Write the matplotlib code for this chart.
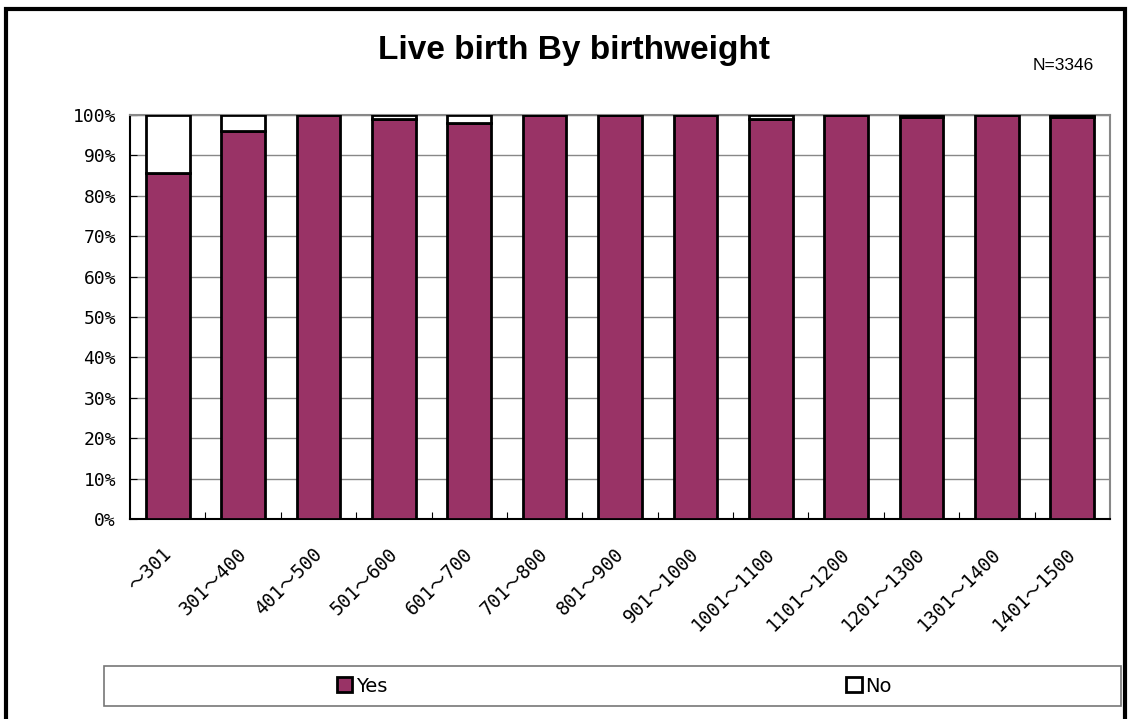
"""Live birth by birthweight: 100 % stacked bars (Yes / No)."""

import matplotlib

matplotlib.use("Agg")
import matplotlib.pyplot as plt
from matplotlib.patches import Rectangle
from matplotlib.ticker import FuncFormatter, MultipleLocator
from matplotlib.transforms import ScaledTranslation

# Catégories de poids de naissance (g)
CATEGORIES = ["～301", "301～400", "401～500", "501～600", "601～700",
              "701～800", "801～900", "901～1000", "1001～1100", "1101～1200",
              "1201～1300", "1301～1400", "1401～1500"]
# Part des naissances vivantes (%)
YES = [85.7, 96.1, 100.0, 99.1, 97.9, 100.0, 100.0, 100.0, 98.9, 100.0,
       99.5, 100.0, 99.5]
NO = [100.0 - v for v in YES]

MONO = ["DejaVu Sans Mono", "Noto Sans CJK JP"]
PURPLE = "#993366"

fig = plt.figure(figsize=(11.31, 7.19), dpi=100)
ax = fig.add_axes([130 / 1131, 1 - 519 / 719, 980 / 1131, 404 / 719])

x = list(range(len(CATEGORIES)))
largeur = 0.58
ax.bar(x, YES, largeur, color=PURPLE, edgecolor="black", linewidth=2,
       label="Yes", zorder=3)
ax.bar(x, NO, largeur, bottom=YES, color="white", edgecolor="black",
       linewidth=2, label="No", zorder=3)

ax.set_xlim(-0.5, len(CATEGORIES) - 0.5)
ax.set_ylim(0, 100)
ax.yaxis.set_major_locator(MultipleLocator(10))
ax.yaxis.set_major_formatter(FuncFormatter(lambda v, _: f"{v:.0f}%"))
ax.grid(axis="y", color="#888888", linewidth=1, zorder=0)

# ticks x aux frontières des catégories, libellés au centre
ax.set_xticks([i - 0.5 for i in x[1:]])
ax.set_xticklabels([])
ax.set_xticks(x, minor=True)
ax.set_xticklabels(CATEGORIES, minor=True, rotation=45, ha="right",
                   va="top", rotation_mode="anchor", family=MONO,
                   fontsize=13.5)
ax.tick_params(axis="x", which="minor", length=0, pad=18)
ax.tick_params(axis="x", which="major", direction="in", length=5)
ax.tick_params(axis="y", direction="in", length=5, pad=10)
decalage = ScaledTranslation(-6 / 100, 0, fig.dpi_scale_trans)
for lab in ax.get_xticklabels(minor=True):
    lab.set_transform(lab.get_transform() + decalage)
for lab in ax.get_yticklabels():
    lab.set_family(MONO)
    lab.set_fontsize(13)

for cote in ("left", "bottom"):
    ax.spines[cote].set_color("black")
    ax.spines[cote].set_linewidth(1.5)
for cote in ("top", "right"):
    ax.spines[cote].set_color("#888888")
    ax.spines[cote].set_linewidth(1.5)

fig.text(574 / 1131, 1 - 50 / 719, "Live birth By birthweight",
         ha="center", va="center", fontsize=24, fontweight="bold",
         family="Liberation Sans")
fig.text(1063 / 1131, 1 - 65 / 719, "N=3346", ha="center", va="center",
         fontsize=12.5, family=["Liberation Sans Narrow", "Liberation Sans"])

# cadre de légende façon Excel, une entrée par moitié
fig.patches.append(Rectangle((104 / 1131, 1 - 706 / 719), 1017 / 1131,
                             40 / 719, transform=fig.transFigure,
                             facecolor="white", edgecolor="#777777",
                             linewidth=1.2))
handles, labels = ax.get_legend_handles_labels()
for h, l, cx in zip(handles, labels, (362 / 1131, 869 / 1131)):
    fig.legend([h], [l], loc="center", bbox_to_anchor=(cx, 1 - 686 / 719),
               frameon=False, handlelength=0.8, handleheight=0.8,
               handletextpad=0.2, prop={"family": "Liberation Sans Narrow",
                                        "size": 14})

# cadre noir autour de la figure
fig.patches.append(Rectangle((6 / 1131, -0.01), 1119 / 1131, 1 - 2 / 719,
                             transform=fig.transFigure, facecolor="none",
                             edgecolor="black", linewidth=3))

fig.savefig("out.png", dpi=100)
